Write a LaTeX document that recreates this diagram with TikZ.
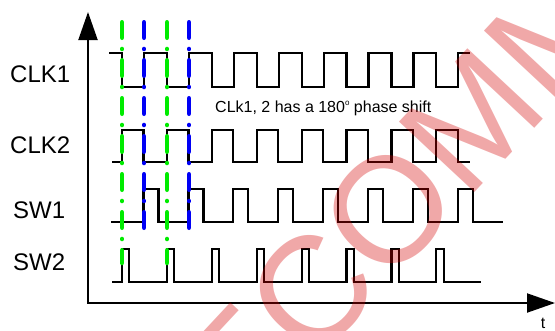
\documentclass[tikz,border=0pt]{standalone}
\usepackage{fontspec}
\setmainfont{Liberation Sans}
\usetikzlibrary{arrows.meta}
\definecolor{wgreen}{RGB}{0,235,0}
\definecolor{wblue}{RGB}{0,0,245}
\definecolor{wmark}{RGB}{210,0,0}
\begin{document}
\begin{tikzpicture}[x=1pt,y=-1pt,
  wave/.style={line width=2.2pt, line join=miter},
  axis/.style={line width=2pt},
  marker/.style={line width=4.5pt, line cap=round, dash pattern=on 15.5pt off 11.2pt on 0.1pt off 11.2pt},
  lbl/.style={font=\fontsize{24}{24}\selectfont, inner sep=0pt, anchor=base west}]
\useasboundingbox (0,0) rectangle (555,330);
% axes
\coordinate (origin) at (88,303);
\coordinate (ytop) at (88,12);
\coordinate (xend) at (555,303);
\draw[axis,{Triangle[length=28pt,width=19pt]}-{Triangle[length=28pt,width=19pt]}] (ytop) -- (origin) -- (xend);
% labels
\node[lbl] (l1) at (10,82) {CLK1};
\node[lbl] (l2) at (10,153) {CLK2};
\node[lbl] (l3) at (13,218) {SW1};
\node[lbl] (l4) at (13,270) {SW2};
\node[font=\fontsize{16}{16}\selectfont, inner sep=0pt, anchor=base west] (note) at (215,112) {CLk1, 2 has a 180\raisebox{7pt}{\fontsize{8}{8}\selectfont o} phase shift};
\node[font=\fontsize{16}{16}\selectfont, inner sep=0pt, anchor=base] (t) at (543,328) {t};
% waveforms
\draw[wave] (109,53) foreach \k in {0,...,7} { -| ({122+44.9*\k},87) -| ({144+44.9*\k},53) } -- (470,53);
\draw[wave] (112,162) foreach \k in {0,...,7} { -| ({122+44.9*\k},130) -| ({143.5+44.9*\k},162) } -- (470,162);
\draw[wave] (111,222) foreach \k in {0,...,7} { -| ({143.5+44.9*\k},189) -| ({158.5+44.9*\k},222) } -- (503,222);
\draw[wave] (112,282) foreach \k in {0,...,7} { -| ({122+44.9*\k},249) -| ({129.3+44.9*\k},282) } -- (481,282);
% markers
\draw[marker,wgreen] (122,22.25) -- (122,263);
\draw[marker,wgreen] (167,22.25) -- (167,263);
\draw[marker,wblue] (144,22.25) -- (144,227.75);
\draw[marker,wblue] (189,22.25) -- (189,227.75);
% watermark
\begin{scope}
\clip (0,0) rectangle (555,330);
\node[rotate=47, anchor=base west, inner sep=0pt, text=wmark, text opacity=0.34, font=\fontsize{150}{150}\selectfont] (wm) at (170.5,518.8) {RECOMMEND};
\end{scope}
\end{tikzpicture}
\end{document}
